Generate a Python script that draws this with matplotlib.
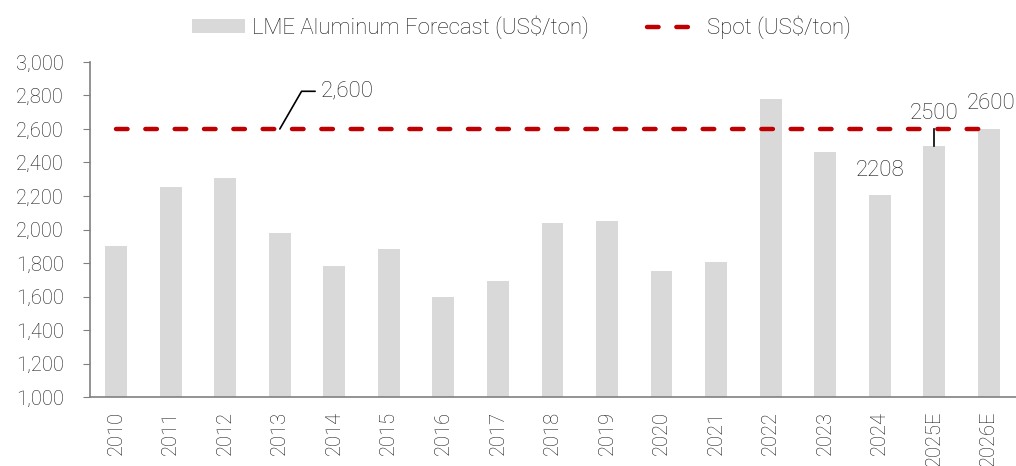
import matplotlib
matplotlib.use("Agg")
import matplotlib.pyplot as plt
import numpy as np

years = ['2010', '2011', '2012', '2013', '2014', '2015', '2016', '2017', '2018',
         '2019', '2020', '2021', '2022', '2023', '2024', '2025E', '2026E']
forecast = [1900, 2255, 2310, 1980, 1780, 1885, 1600, 1695, 2040,
            2050, 1755, 1805, 2780, 2465, 2208, 2500, 2600]
spot = [2600] * len(years)

plt.rcParams['font.family'] = ['Roboto', 'DejaVu Sans']
txt_color = '#1a1a1a'

fig = plt.figure(figsize=(10.16, 4.66), dpi=100)
ax = fig.add_axes([0.0886, 0.148, 0.9114, 0.719])

x = np.arange(len(years))
bars = ax.bar(x, forecast, width=0.4, color='#D9D9D9', label='LME Aluminum Forecast (US$/ton)', zorder=2)
line, = ax.plot(x, spot, color='#C00000', lw=3.2, linestyle=(0, (2.6, 4.0)),
                dash_capstyle='round', label='Spot (US$/ton)', zorder=3)

ax.set_ylim(1000, 3000)
ax.set_xlim(-0.48, 16.5)
ax.set_yticks(range(1000, 3001, 200))
ax.set_yticklabels([f'{v:,}' for v in range(1000, 3001, 200)])
ax.set_xticks(x)
ax.set_xticklabels(years, rotation=90)

for s in ['top', 'right']:
    ax.spines[s].set_visible(False)
for s in ['left', 'bottom']:
    ax.spines[s].set_color('#808080')
    ax.spines[s].set_linewidth(1.2)
ax.tick_params(axis='y', length=5, color='#808080', labelsize=14.5, labelcolor=txt_color, pad=14)
ax.tick_params(axis='x', length=0, labelsize=14.5, labelcolor=txt_color, pad=10)
for lbl in ax.get_xticklabels() + ax.get_yticklabels():
    lbl.set_fontweight('light')

# annotations
ax.annotate('2,600', xy=(3, 2600), xytext=(3.75, 2825), fontsize=16, color=txt_color,
            fontweight='light', va='center', ha='left',
            arrowprops=dict(arrowstyle='-', color='black', lw=1.2,
                            connectionstyle='angle,angleA=0,angleB=60,rad=0',
                            shrinkA=2, shrinkB=0))
ax.text(14, forecast[14] + 80, '2208', fontsize=16, color=txt_color,
        fontweight='light', ha='center', va='bottom')
ax.plot([15, 15], [2600, forecast[15]], color='black', lw=1.2, zorder=4)
ax.text(15, 2630, '2500', fontsize=16, color=txt_color,
        fontweight='light', ha='center', va='bottom')
ax.text(16.05, 2690, '2600', fontsize=16, color=txt_color,
        fontweight='light', ha='center', va='bottom')

leg = fig.legend([bars, line], ['LME Aluminum Forecast (US$/ton)', 'Spot (US$/ton)'],
                 loc='upper center', bbox_to_anchor=(0.513, 1.01), ncol=2, frameon=False,
                 fontsize=16, handlelength=2.4, handleheight=0.55, columnspacing=2.6,
                 handletextpad=0.3)
for t in leg.get_texts():
    t.set_color(txt_color)
    t.set_fontweight('light')

fig.savefig('out.png', dpi=100)
